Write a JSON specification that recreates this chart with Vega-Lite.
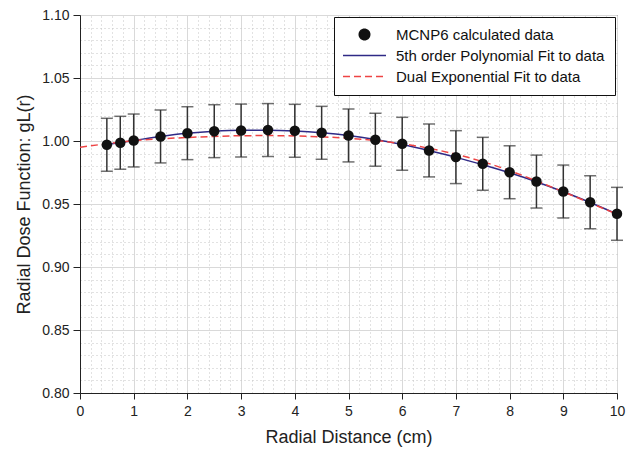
{
  "$schema": "https://vega.github.io/schema/vega-lite/v6.json",
  "width": 537,
  "height": 378,
  "autosize": "none",
  "padding": {"left": 80, "top": 15, "right": 9, "bottom": 56},
  "background": "white",
  "config": {
    "font": "Liberation Sans",
    "view": {"stroke": "#222222", "strokeWidth": 1},
    "legend": {
      "title": null,
      "orient": "top-right",
      "offset": 2,
      "padding": 10,
      "fillColor": "white",
      "strokeColor": "#111111",
      "labelFont": "Liberation Sans",
      "labelFontSize": 15,
      "labelColor": "#111111",
      "labelLimit": 400,
      "labelOffset": 24,
      "symbolOffset": 13,
      "symbolSize": 110,
      "rowPadding": 5
    }
  },
  "datasets": {
    "pts": [
      {"x": 0.5, "y": 0.9970, "lo": 0.9760, "hi": 1.0180, "series": "MCNP6 calculated data"},
      {"x": 0.75, "y": 0.9986, "lo": 0.9776, "hi": 1.0196, "series": "MCNP6 calculated data"},
      {"x": 1, "y": 1.0004, "lo": 0.9794, "hi": 1.0214, "series": "MCNP6 calculated data"},
      {"x": 1.5, "y": 1.0036, "lo": 0.9826, "hi": 1.0246, "series": "MCNP6 calculated data"},
      {"x": 2, "y": 1.0062, "lo": 0.9852, "hi": 1.0272, "series": "MCNP6 calculated data"},
      {"x": 2.5, "y": 1.0078, "lo": 0.9868, "hi": 1.0288, "series": "MCNP6 calculated data"},
      {"x": 3, "y": 1.0083, "lo": 0.9873, "hi": 1.0293, "series": "MCNP6 calculated data"},
      {"x": 3.5, "y": 1.0087, "lo": 0.9877, "hi": 1.0297, "series": "MCNP6 calculated data"},
      {"x": 4, "y": 1.0081, "lo": 0.9871, "hi": 1.0291, "series": "MCNP6 calculated data"},
      {"x": 4.5, "y": 1.0065, "lo": 0.9855, "hi": 1.0275, "series": "MCNP6 calculated data"},
      {"x": 5, "y": 1.0044, "lo": 0.9834, "hi": 1.0254, "series": "MCNP6 calculated data"},
      {"x": 5.5, "y": 1.0010, "lo": 0.9800, "hi": 1.0220, "series": "MCNP6 calculated data"},
      {"x": 6, "y": 0.9978, "lo": 0.9768, "hi": 1.0188, "series": "MCNP6 calculated data"},
      {"x": 6.5, "y": 0.9925, "lo": 0.9715, "hi": 1.0135, "series": "MCNP6 calculated data"},
      {"x": 7, "y": 0.9872, "lo": 0.9662, "hi": 1.0082, "series": "MCNP6 calculated data"},
      {"x": 7.5, "y": 0.9819, "lo": 0.9609, "hi": 1.0029, "series": "MCNP6 calculated data"},
      {"x": 8, "y": 0.9752, "lo": 0.9542, "hi": 0.9962, "series": "MCNP6 calculated data"},
      {"x": 8.5, "y": 0.9678, "lo": 0.9468, "hi": 0.9888, "series": "MCNP6 calculated data"},
      {"x": 9, "y": 0.9599, "lo": 0.9389, "hi": 0.9809, "series": "MCNP6 calculated data"},
      {"x": 9.5, "y": 0.9514, "lo": 0.9304, "hi": 0.9724, "series": "MCNP6 calculated data"},
      {"x": 10, "y": 0.9422, "lo": 0.9212, "hi": 0.9632, "series": "MCNP6 calculated data"}
    ],
    "poly": [
      {"x": 0.5, "y": 0.9972, "series": "5th order Polynomial Fit to data"},
      {"x": 1, "y": 1.0004, "series": "5th order Polynomial Fit to data"},
      {"x": 1.5, "y": 1.0036, "series": "5th order Polynomial Fit to data"},
      {"x": 2, "y": 1.0061, "series": "5th order Polynomial Fit to data"},
      {"x": 2.5, "y": 1.0077, "series": "5th order Polynomial Fit to data"},
      {"x": 3, "y": 1.0085, "series": "5th order Polynomial Fit to data"},
      {"x": 3.5, "y": 1.0086, "series": "5th order Polynomial Fit to data"},
      {"x": 4, "y": 1.0080, "series": "5th order Polynomial Fit to data"},
      {"x": 4.5, "y": 1.0066, "series": "5th order Polynomial Fit to data"},
      {"x": 5, "y": 1.0044, "series": "5th order Polynomial Fit to data"},
      {"x": 5.5, "y": 1.0012, "series": "5th order Polynomial Fit to data"},
      {"x": 6, "y": 0.9972, "series": "5th order Polynomial Fit to data"},
      {"x": 6.5, "y": 0.9924, "series": "5th order Polynomial Fit to data"},
      {"x": 7, "y": 0.9870, "series": "5th order Polynomial Fit to data"},
      {"x": 7.5, "y": 0.9812, "series": "5th order Polynomial Fit to data"},
      {"x": 8, "y": 0.9748, "series": "5th order Polynomial Fit to data"},
      {"x": 8.5, "y": 0.9677, "series": "5th order Polynomial Fit to data"},
      {"x": 9, "y": 0.9597, "series": "5th order Polynomial Fit to data"},
      {"x": 9.5, "y": 0.9512, "series": "5th order Polynomial Fit to data"},
      {"x": 10, "y": 0.9420, "series": "5th order Polynomial Fit to data"}
    ],
    "dexp": [
      {"x": 0, "y": 0.9951, "series": "Dual Exponential Fit to data"},
      {"x": 0.5, "y": 0.9978, "series": "Dual Exponential Fit to data"},
      {"x": 1, "y": 1.0002, "series": "Dual Exponential Fit to data"},
      {"x": 1.5, "y": 1.0017, "series": "Dual Exponential Fit to data"},
      {"x": 2, "y": 1.0028, "series": "Dual Exponential Fit to data"},
      {"x": 2.5, "y": 1.0036, "series": "Dual Exponential Fit to data"},
      {"x": 3, "y": 1.0042, "series": "Dual Exponential Fit to data"},
      {"x": 3.5, "y": 1.0043, "series": "Dual Exponential Fit to data"},
      {"x": 4, "y": 1.0040, "series": "Dual Exponential Fit to data"},
      {"x": 4.5, "y": 1.0033, "series": "Dual Exponential Fit to data"},
      {"x": 5, "y": 1.0022, "series": "Dual Exponential Fit to data"},
      {"x": 5.5, "y": 1.0004, "series": "Dual Exponential Fit to data"},
      {"x": 6, "y": 0.9978, "series": "Dual Exponential Fit to data"},
      {"x": 6.5, "y": 0.9942, "series": "Dual Exponential Fit to data"},
      {"x": 7, "y": 0.9895, "series": "Dual Exponential Fit to data"},
      {"x": 7.5, "y": 0.9836, "series": "Dual Exponential Fit to data"},
      {"x": 8, "y": 0.9765, "series": "Dual Exponential Fit to data"},
      {"x": 8.5, "y": 0.9683, "series": "Dual Exponential Fit to data"},
      {"x": 9, "y": 0.9597, "series": "Dual Exponential Fit to data"},
      {"x": 9.5, "y": 0.9508, "series": "Dual Exponential Fit to data"},
      {"x": 10, "y": 0.9420, "series": "Dual Exponential Fit to data"}
    ]
  },
  "resolve": {"axis": {"x": "independent", "y": "independent"}},
  "layer": [
    {
      "data": {"name": "poly"},
      "mark": {"type": "line", "strokeWidth": 1.5, "interpolate": "monotone"},
      "encoding": {
        "x": {"field": "x", "type": "quantitative", "scale": {"domain": [0, 10], "nice": false, "zero": false},
          "axis": {"orient": "bottom", "values": [0,1,2,3,4,5,6,7,8,9,10], "title": "Radial Distance (cm)", "titleFontSize": 18, "titleFontWeight": "normal", "titleColor": "#222222", "titlePadding": 10, "labelFontSize": 14, "labelColor": "#222222", "labelPadding": 5, "labelFlush": false, "labelOverlap": false, "tickSize": 6, "tickColor": "#222222", "domainColor": "#222222", "grid": true, "gridColor": "#d9d9d9", "gridWidth": 1}},
        "y": {"field": "y", "type": "quantitative", "scale": {"domain": [0.8, 1.1], "nice": false, "zero": false},
          "axis": {"orient": "left", "values": [0.8,0.85,0.9,0.95,1.0,1.05,1.1], "format": ".2f", "title": "Radial Dose Function: gL(r)", "titleFontSize": 18, "titleFontWeight": "normal", "titleColor": "#222222", "titlePadding": 8, "labelFontSize": 14, "labelColor": "#222222", "labelPadding": 4, "labelOverlap": false, "tickSize": 7, "tickColor": "#222222", "domainColor": "#222222", "grid": true, "gridColor": "#d9d9d9", "gridWidth": 1}},
        "color": {"field": "series", "type": "nominal",
          "scale": {"domain": ["MCNP6 calculated data", "5th order Polynomial Fit to data", "Dual Exponential Fit to data"], "range": ["#111111", "#2f2a86", "#ee4444"]},
          "legend": {
            "encode": {
              "symbols": {
                "update": {
                  "shape": {"signal": "datum.value === 'MCNP6 calculated data' ? 'circle' : 'M-4.1,0H4.1'"},
                  "fill": {"signal": "datum.value === 'MCNP6 calculated data' ? '#111111' : 'transparent'"},
                  "stroke": {"signal": "datum.value === 'MCNP6 calculated data' ? 'transparent' : (datum.value === 'Dual Exponential Fit to data' ? '#ee4444' : '#2f2a86')"},
                  "strokeDash": {"signal": "datum.value === 'Dual Exponential Fit to data' ? [7, 4] : [1, 0]"},
                  "strokeWidth": {"value": 1.5},
                  "opacity": {"value": 1}
                }
              }
            }
          }}
      }
    },
    {
      "data": {"name": "dexp"},
      "mark": {"type": "line", "strokeWidth": 1.5, "strokeDash": [7, 4], "interpolate": "monotone"},
      "encoding": {
        "x": {"field": "x", "type": "quantitative", "scale": {"domain": [0, 10], "nice": false, "zero": false},
          "axis": {"orient": "top", "values": [0.2,0.4,0.6,0.8,1.2,1.4,1.6,1.8,2.2,2.4,2.6,2.8,3.2,3.4,3.6,3.8,4.2,4.4,4.6,4.8,5.2,5.4,5.6,5.8,6.2,6.4,6.6,6.8,7.2,7.4,7.6,7.8,8.2,8.4,8.6,8.8,9.2,9.4,9.6,9.8], "labels": false, "ticks": false, "domain": false, "title": null, "grid": true, "gridColor": "#c4c4c4", "gridDash": [1, 3], "gridWidth": 1}},
        "y": {"field": "y", "type": "quantitative", "scale": {"domain": [0.8, 1.1], "nice": false, "zero": false},
          "axis": {"orient": "right", "values": [0.81,0.82,0.83,0.84,0.86,0.87,0.88,0.89,0.91,0.92,0.93,0.94,0.96,0.97,0.98,0.99,1.01,1.02,1.03,1.04,1.06,1.07,1.08,1.09], "labels": false, "ticks": false, "domain": false, "title": null, "grid": true, "gridColor": "#c4c4c4", "gridDash": [1, 3], "gridWidth": 1}},
        "color": {"field": "series", "type": "nominal",
          "scale": {"domain": ["MCNP6 calculated data", "5th order Polynomial Fit to data", "Dual Exponential Fit to data"], "range": ["#111111", "#2f2a86", "#ee4444"]},
          "legend": {
            "encode": {
              "symbols": {
                "update": {
                  "shape": {"signal": "datum.value === 'MCNP6 calculated data' ? 'circle' : 'M-4.1,0H4.1'"},
                  "fill": {"signal": "datum.value === 'MCNP6 calculated data' ? '#111111' : 'transparent'"},
                  "stroke": {"signal": "datum.value === 'MCNP6 calculated data' ? 'transparent' : (datum.value === 'Dual Exponential Fit to data' ? '#ee4444' : '#2f2a86')"},
                  "strokeDash": {"signal": "datum.value === 'Dual Exponential Fit to data' ? [7, 4] : [1, 0]"},
                  "strokeWidth": {"value": 1.5},
                  "opacity": {"value": 1}
                }
              }
            }
          }}
      }
    },
    {
      "data": {"name": "pts"},
      "mark": {"type": "rule", "color": "#333333", "strokeWidth": 1.5},
      "encoding": {
        "x": {"field": "x", "type": "quantitative", "axis": null},
        "y": {"field": "lo", "type": "quantitative", "axis": null},
        "y2": {"field": "hi"}
      }
    },
    {
      "data": {"name": "pts"},
      "mark": {"type": "tick", "orient": "horizontal", "color": "#333333", "size": 12, "thickness": 1.5},
      "encoding": {
        "x": {"field": "x", "type": "quantitative", "axis": null},
        "y": {"field": "lo", "type": "quantitative", "axis": null}
      }
    },
    {
      "data": {"name": "pts"},
      "mark": {"type": "tick", "orient": "horizontal", "color": "#333333", "size": 12, "thickness": 1.5},
      "encoding": {
        "x": {"field": "x", "type": "quantitative", "axis": null},
        "y": {"field": "hi", "type": "quantitative", "axis": null}
      }
    },
    {
      "data": {"name": "pts"},
      "mark": {"type": "point", "filled": true, "size": 110, "opacity": 1},
      "encoding": {
        "x": {"field": "x", "type": "quantitative", "axis": null},
        "y": {"field": "y", "type": "quantitative", "axis": null},
        "color": {"field": "series", "type": "nominal",
          "scale": {"domain": ["MCNP6 calculated data", "5th order Polynomial Fit to data", "Dual Exponential Fit to data"], "range": ["#111111", "#2f2a86", "#ee4444"]},
          "legend": {
            "encode": {
              "symbols": {
                "update": {
                  "shape": {"signal": "datum.value === 'MCNP6 calculated data' ? 'circle' : 'M-4.1,0H4.1'"},
                  "fill": {"signal": "datum.value === 'MCNP6 calculated data' ? '#111111' : 'transparent'"},
                  "stroke": {"signal": "datum.value === 'MCNP6 calculated data' ? 'transparent' : (datum.value === 'Dual Exponential Fit to data' ? '#ee4444' : '#2f2a86')"},
                  "strokeDash": {"signal": "datum.value === 'Dual Exponential Fit to data' ? [7, 4] : [1, 0]"},
                  "strokeWidth": {"value": 1.5},
                  "opacity": {"value": 1}
                }
              }
            }
          }
        }
      }
    }
  ]
}
